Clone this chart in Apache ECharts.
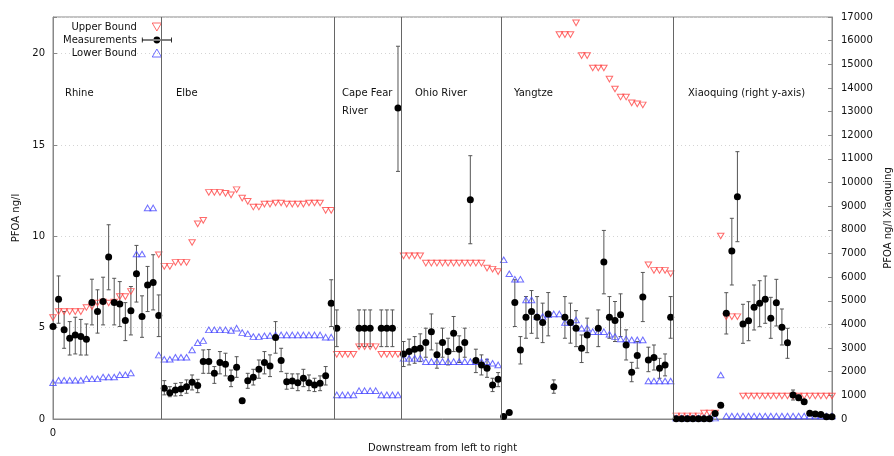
<!DOCTYPE html>
<html><head><meta charset="utf-8">
<script src="https://cdn.jsdelivr.net/npm/echarts@6/dist/echarts.min.js"></script>
<style>html,body{margin:0;padding:0;background:#fff}#c{width:894px;height:456px}</style>
</head><body><div id="c"></div>
<script>
// ---- data (x = sample index, left axis for idx 0..111, right axis for Xiaoquing idx 112..140)
const upperLeft = [
5.55,5.88,5.88,5.88,5.88,5.88,6.1,6.15,6.35,6.4,
6.35,6.4,6.7,6.7,6.98,null,null,null,null,8.99,
8.35,8.35,8.57,8.57,8.57,9.66,10.68,10.87,12.4,12.4,
12.4,12.35,12.27,12.55,12.09,11.91,11.6,11.6,11.76,11.76,
11.82,11.82,11.76,11.76,11.76,11.76,11.82,11.82,11.82,11.42,
11.42,3.54,3.54,3.54,3.54,3.96,3.96,3.96,3.96,3.54,
3.54,3.54,3.54,8.93,8.93,8.93,8.93,8.53,8.53,8.53,
8.53,8.53,8.53,8.53,8.53,8.53,8.53,8.53,8.26,8.2,
8.07,null,null,null,null,null,null,null,null,null,
null,21.04,21.04,21.04,21.68,19.89,19.89,19.21,19.21,19.21,
18.6,18.06,17.62,17.62,17.3,17.25,17.19,8.44,8.13,8.13,
8.13,7.95];
const lowerLeft = [
1.99,2.12,2.12,2.12,2.12,2.12,2.2,2.2,2.2,2.3,
2.3,2.3,2.42,2.42,2.52,9.03,9.03,11.55,11.55,3.5,
3.27,3.27,3.38,3.38,3.38,3.78,4.18,4.29,4.88,4.88,
4.88,4.88,4.85,4.97,4.73,4.66,4.51,4.51,4.55,4.57,
4.6,4.6,4.6,4.6,4.6,4.6,4.6,4.6,4.6,4.48,
4.48,1.32,1.32,1.32,1.32,1.55,1.55,1.55,1.55,1.32,
1.32,1.32,1.32,3.32,3.32,3.32,3.32,3.14,3.14,3.14,
3.14,3.14,3.14,3.14,3.14,3.14,3.14,3.14,3.14,3.05,
2.96,8.71,7.95,7.65,7.65,6.52,6.52,5.61,5.61,5.7,
5.75,5.75,5.28,5.28,5.42,4.97,4.97,4.78,4.78,4.78,
4.64,4.51,4.38,4.38,4.33,4.33,4.33,2.08,2.08,2.08,
2.08,2.08];
const measLeft = [
5.06,6.56,4.88,4.42,4.6,4.51,4.37,6.37,5.88,6.43,
8.86,6.37,6.3,5.39,5.92,7.95,5.61,7.34,7.47,5.66,
1.68,1.44,1.59,1.64,1.77,2.01,1.83,3.14,3.14,2.5,
3.09,3.0,2.23,2.83,1.0,2.1,2.28,2.72,3.09,2.9,
4.46,3.2,2.04,2.08,1.99,2.23,1.99,1.86,1.95,2.37,
6.34,4.97,null,null,null,4.97,4.97,4.97,null,4.97,
4.97,4.97,17.02,3.56,3.69,3.82,3.87,4.18,4.78,3.51,
4.18,3.69,4.69,3.82,4.18,12.0,3.2,2.96,2.78,1.86,
2.17,0.13,0.35,6.37,3.78,5.57,5.88,5.57,5.28,5.75,
1.77,null,5.57,5.28,4.97,3.87,4.6,null,4.97,8.59,
5.57,5.39,5.7,4.05,2.56,3.47,6.67,3.23,3.36,2.78,
2.96,5.57];
const errLoLeft = [
null,5.24,3.87,3.5,3.56,3.5,3.5,5.15,4.7,5.15,
7.07,5.15,5.06,4.29,4.6,6.4,4.47,5.88,5.97,4.51,
1.32,1.22,1.26,1.28,1.41,1.59,1.44,2.5,2.5,1.95,
2.47,2.36,1.77,2.28,0.86,1.68,1.86,2.23,2.47,2.32,
3.6,2.59,1.63,1.68,1.55,1.77,1.55,1.5,1.55,1.86,
5.06,3.96,null,null,null,3.96,3.96,3.96,null,3.96,
3.96,3.96,13.55,2.87,2.96,3.05,3.14,3.38,3.78,2.78,
3.38,2.96,3.69,3.09,3.38,9.59,2.54,2.41,2.28,1.5,
1.77,null,null,5.06,3.01,4.42,4.69,4.42,4.18,4.55,
1.41,null,4.42,4.15,3.96,3.09,3.63,null,3.96,6.85,
4.42,4.24,4.51,3.23,2.04,2.78,5.33,2.59,2.68,2.23,
2.36,4.42];
const errHiLeft = [
null,7.83,5.88,5.33,5.57,5.45,5.2,7.65,7.07,7.76,
10.63,7.7,7.52,6.37,7.25,9.5,6.74,8.35,8.99,6.79,
2.1,1.77,1.95,1.99,2.14,2.41,2.17,3.78,3.8,2.87,
3.69,3.6,2.68,3.41,1.13,2.5,2.72,3.23,3.69,3.51,
5.33,3.87,2.5,2.47,2.47,2.72,2.41,2.23,2.36,2.87,
7.62,5.97,null,null,null,5.97,5.97,5.97,null,5.97,
5.97,5.97,20.4,4.24,4.37,4.51,4.66,4.97,5.75,4.15,
4.97,4.42,5.61,4.55,4.97,14.41,3.82,3.51,3.27,2.23,
2.54,null,null,7.62,4.51,6.7,7.03,6.7,6.34,6.92,
2.14,null,6.7,6.34,5.93,4.6,5.52,null,5.97,10.32,
6.7,6.43,6.85,4.88,3.1,4.24,8.02,3.93,4.05,3.32,
3.56,6.7];

const xiaoStart = 112;
const upperXiao = [130,130,130,130,130,250,250,250,7739,4327,4327,4327,
973,973,973,973,973,973,973,973,973,973,973,973,973,973,973,973,973];
const lowerXiao = [40,40,40,40,40,40,40,40,1861,
127,127,127,127,127,127,127,127,127,127,127,127,127,127,127,127,127,127,127,127];
const measXiao = [15,15,15,15,15,15,15,230,579,4469,7105,9401,4018,4157,4724,4893,5062,4259,4918,3878,3227,1015,900,732,240,211,190,97,97];
const errLoXiao = [null,null,null,null,null,null,null,null,null,3595,5667,7498,3201,3311,3764,3904,4047,3412,3933,3130,2567,803,780,650,null,null,null,null,null];
const errHiXiao = [null,null,null,null,null,null,null,null,null,5342,8487,11305,4851,4961,5667,5849,6047,5145,5906,4652,3834,1226,1020,810,null,null,null,null,null];

const dividers = [19.5, 50.5, 62.5, 80.5, 111.5];
const riverNames = ['Rhine', 'Elbe', 'Cape Fear\nRiver', 'Ohio River', 'Yangtze', 'Xiaoquing (right y-axis)'];
const riverLabelLeft = [65, 176, 342, 415, 514, 688];

const leftTicks = [0, 5, 10, 15, 20];

// ---- helpers
function pts(arr, off) { const o = []; arr.forEach((v, i) => { if (v != null) o.push([i + off, v]); }); return o; }
function errs(lo, hi, off) { const o = []; lo.forEach((v, i) => { if (v != null && hi[i] != null) o.push([i + off, v, hi[i]]); }); return o; }

const FONT = 'DejaVu Sans';
const RED = '#ff4545', BLUE = '#4a4aff', ERR = '#555';
const downTri = 'path://M0,0L10,0L5,8.66Z';
const upTri = 'path://M5,0L10,8.66L0,8.66Z';
const errIcon = 'path://M0,3.6H30V4.4H0Z M0,1.5H0.8V6.5H0Z M29.2,1.5H30V6.5H29.2Z M11.6,4A3.4,3.4 0 1 0 18.4,4A3.4,3.4 0 1 0 11.6,4Z';

function errRender(params, api) {
  const x = api.value(0), lo = api.value(1), hi = api.value(2);
  const a = api.coord([x, lo]), b = api.coord([x, hi]);
  const w = 2, st = { stroke: ERR, lineWidth: 1 };
  return { type: 'group', children: [
    { type: 'line', shape: { x1: a[0], y1: a[1], x2: b[0], y2: b[1] }, style: st },
    { type: 'line', shape: { x1: a[0] - w, y1: a[1], x2: a[0] + w, y2: a[1] }, style: st },
    { type: 'line', shape: { x1: b[0] - w, y1: b[1], x2: b[0] + w, y2: b[1] }, style: st }
  ]};
}

const hollow = c => ({ color: 'rgba(0,0,0,0)', borderColor: c, borderWidth: 1 });

const series = [
  { name: 'Measurements', type: 'custom', renderItem: errRender, encode: { x: 0, y: [1, 2] }, data: errs(errLoLeft, errHiLeft, 0), z: 2, silent: true,
    markLine: { silent: true, symbol: 'none', label: { show: false }, lineStyle: { color: '#666', type: 'solid', width: 1 }, data: dividers.map(d => ({ xAxis: d })) } },
  { name: 'Measurements', type: 'custom', renderItem: errRender, encode: { x: 0, y: [1, 2] }, yAxisIndex: 1, data: errs(errLoXiao, errHiXiao, xiaoStart), z: 2, silent: true },
  { name: 'Upper Bound', type: 'scatter', symbol: downTri, symbolSize: [6.5, 5.6], itemStyle: hollow(RED), data: pts(upperLeft, 0), z: 3 },
  { name: 'Upper Bound', type: 'scatter', symbol: downTri, symbolSize: [6.5, 5.6], itemStyle: hollow(RED), yAxisIndex: 1, data: pts(upperXiao, xiaoStart), z: 3 },
  { name: 'Lower Bound', type: 'scatter', symbol: upTri, symbolSize: [6.5, 5.6], itemStyle: hollow(BLUE), data: pts(lowerLeft, 0), z: 3 },
  { name: 'Lower Bound', type: 'scatter', symbol: upTri, symbolSize: [6.5, 5.6], itemStyle: hollow(BLUE), yAxisIndex: 1, data: pts(lowerXiao, xiaoStart), z: 3 },
  { name: 'Measurements', type: 'scatter', symbol: 'circle', symbolSize: 7, itemStyle: { color: '#000', opacity: 1 }, data: pts(measLeft, 0), z: 4 },
  { name: 'Measurements', type: 'scatter', symbol: 'circle', symbolSize: 7, itemStyle: { color: '#000', opacity: 1 }, yAxisIndex: 1, data: pts(measXiao, xiaoStart), z: 4 }
];

const chart = echarts.init(document.getElementById('c'));
chart.setOption({
  animation: false,
  backgroundColor: '#fff',
  textStyle: { fontFamily: FONT },
  grid: { left: 53, right: 62, top: 17, bottom: 37, show: true, borderColor: '#888', borderWidth: 1, containLabel: false, outerBoundsMode: 'none' },
  legend: {
    orient: 'vertical', left: 63, top: 21, align: 'right', padding: 0, itemGap: 1,
    itemWidth: 30, itemHeight: 8, selectedMode: false,
    textStyle: { fontFamily: FONT, fontSize: 10, color: '#111', lineHeight: 12 },
    data: [
      { name: 'Upper Bound', icon: downTri, itemStyle: hollow(RED) },
      { name: 'Measurements', icon: errIcon, itemStyle: { color: '#000', borderWidth: 0 } },
      { name: 'Lower Bound', icon: upTri, itemStyle: hollow(BLUE) }
    ]
  },
  xAxis: {
    type: 'value', min: 0, max: 140, interval: 140,
    axisLine: { show: true, lineStyle: { color: '#888' } },
    axisTick: { show: false }, splitLine: { show: false },
    axisLabel: { color: '#111', fontSize: 10, margin: 9, fontFamily: FONT, formatter: v => (v === 0 ? '0' : '') },
    name: 'Downstream from left to right', nameLocation: 'middle', nameGap: 24,
    nameTextStyle: { color: '#111', fontSize: 10, fontFamily: FONT }
  },
  yAxis: [
    { type: 'value', min: 0, max: 22, interval: 5, position: 'left',
      axisLine: { show: true, lineStyle: { color: '#888' } },
      axisTick: { show: true, inside: true, length: 4, lineStyle: { color: '#888' } },
      axisLabel: { color: '#111', fontSize: 10, margin: 8, fontFamily: FONT, formatter: v => (leftTicks.indexOf(v) >= 0 ? String(v) : '') },
      splitLine: { show: true, lineStyle: { color: '#d4d4d4', type: [1, 3], width: 1 } },
      name: 'PFOA ng/l', nameLocation: 'middle', nameGap: 25,
      nameTextStyle: { color: '#111', fontSize: 10, fontFamily: FONT } },
    { type: 'value', min: 0, max: 17000, interval: 1000, position: 'right',
      axisLine: { show: true, lineStyle: { color: '#888' } },
      axisTick: { show: true, inside: true, length: 4, lineStyle: { color: '#888' } },
      axisLabel: { color: '#111', fontSize: 10, margin: 9, fontFamily: FONT, formatter: v => String(v) },
      splitLine: { show: false },
      name: 'PFOA ng/l Xiaoquing', nameLocation: 'middle', nameGap: 50,
      nameTextStyle: { color: '#111', fontSize: 10, fontFamily: FONT } }
  ],
  graphic: riverNames.map((t, i) => ({
    type: 'text', left: riverLabelLeft[i], top: 84, silent: true,
    style: { text: t, fill: '#111', font: '10px "DejaVu Sans"', lineHeight: 18 }
  })),
  series: series
});
</script>
</body></html>
